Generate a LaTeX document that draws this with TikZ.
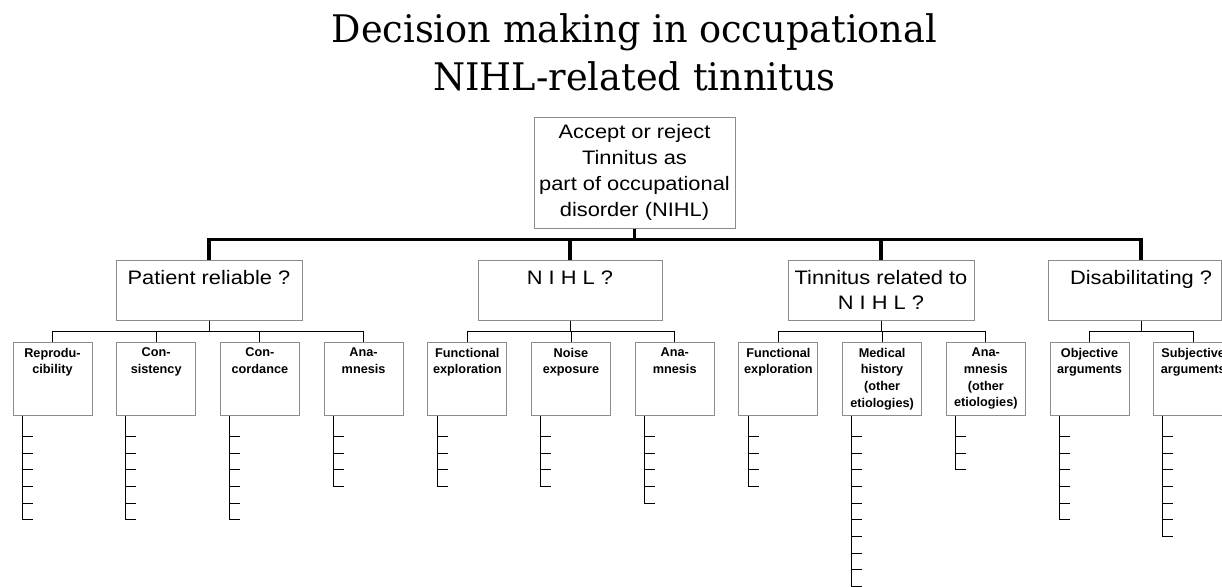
\documentclass[tikz,border=0pt]{standalone}
\usepackage{fontspec}
\setmainfont{Liberation Sans}
\newfontfamily\bigsans{Liberation Sans}[FakeStretch=1.12]
\newfontfamily\titleserif{DejaVu Serif}[FakeStretch=0.965]
\usetikzlibrary{positioning}
% tick column under a child box: node, number of ticks
\newcommand{\tickcol}[2]{%
  \draw[tick] ([xshift=9.7pt]#1.south west) -- ++(0,{-21-16.67*(#2-1)});
  \foreach \i in {1,...,#2}
    \draw[tick] ([xshift=9.7pt,yshift={-21pt-16.67pt*(\i-1)}]#1.south west) -- ++(10.5,0);
}

\begin{document}
\begin{tikzpicture}[x=1pt,y=1pt,
  topbox/.style={draw=black!45, line width=1pt, minimum width=201pt, minimum height=111pt,
    align=center, inner sep=0pt, font=\bigsans\fontsize{19.5}{26}\selectfont},
  qbox/.style={draw=black!45, line width=1pt, minimum height=60pt},
  qtext/.style={align=center, inner sep=0pt, font=\bigsans\fontsize{19.5}{25}\selectfont},
  cbox/.style={draw=black!45, line width=1pt, minimum width=79pt, minimum height=73pt},
  ctext/.style={align=center, inner sep=0pt, font=\fontsize{12.7}{16.7}\selectfont\bfseries},
  bus/.style={line width=3.5pt},
  link/.style={line width=1pt},
  tick/.style={line width=1pt}]
  \useasboundingbox (0,0) rectangle (1222,-586);
  \clip (0,0) rectangle (1222,-586);

  \node (title) [anchor=north, align=center, inner sep=0pt,
    font=\titleserif\fontsize{38}{48.5}\selectfont] at (634.5,-13)
    {Decision making in occupational\\NIHL-related tinnitus};

  \node (top) [topbox] at (634.5,-172.5)
    {Accept or reject\\Tinnitus as\\part of occupational\\disorder (NIHL)};

  % questions
  \node (rel) [qbox, minimum width=186pt] at (209,-290) {};
  \node (reltxt) [qtext, below=11pt of rel.north] {Patient reliable ?};

  \node (nihl) [qbox, minimum width=184pt] at (570,-290) {};
  \node (nihltxt) [qtext, below=11pt of nihl.north] {N I H L ?};

  \node (tin) [qbox, minimum width=186pt] at (881,-290) {};
  \node (tintxt) [qtext, below=11pt of tin.north] {Tinnitus related to\\N I H L ?};

  \node (dis) [qbox, minimum width=173pt] at (1134.5,-290) {};
  \node (distxt) [qtext, below=11pt of dis.north, xshift=6.5pt] {Disabilitating ?};

  % arguments
  \node (c1) [cbox] at (52.5,-378.5) {};
  \node (c1txt) [ctext, below=6.3pt of c1.north] {Reprodu-\\cibility};
  \node (c2) [cbox] at (156.2,-378.5) {};
  \node (c2txt) [ctext, below=6.3pt of c2.north] {Con-\\sistency};
  \node (c3) [cbox] at (259.9,-378.5) {};
  \node (c3txt) [ctext, below=6.3pt of c3.north] {Con-\\cordance};
  \node (c4) [cbox] at (363.6,-378.5) {};
  \node (c4txt) [ctext, below=6.3pt of c4.north] {Ana-\\mnesis};

  \node (c5) [cbox] at (467.3,-378.5) {};
  \node (c5txt) [ctext, below=6.3pt of c5.north] {Functional\\exploration};
  \node (c6) [cbox] at (571.0,-378.5) {};
  \node (c6txt) [ctext, below=6.3pt of c6.north] {Noise\\exposure};
  \node (c7) [cbox] at (674.7,-378.5) {};
  \node (c7txt) [ctext, below=6.3pt of c7.north] {Ana-\\mnesis};

  \node (c8) [cbox] at (778.4,-378.5) {};
  \node (c8txt) [ctext, below=6.3pt of c8.north] {Functional\\exploration};
  \node (c9) [cbox] at (882.1,-378.5) {};
  \node (c9txt) [ctext, below=6.3pt of c9.north] {Medical\\history\\(other\\etiologies)};
  \node (c10) [cbox] at (985.8,-378.5) {};
  \node (c10txt) [ctext, below=6.3pt of c10.north] {Ana-\\mnesis\\(other\\etiologies)};

  \node (c11) [cbox] at (1089.5,-378.5) {};
  \node (c11txt) [ctext, below=6.3pt of c11.north] {Objective\\arguments};
  \node (c12) [cbox] at (1193.2,-378.5) {};
  \node (c12txt) [ctext, below=6.3pt of c12.north] {Subjective\\arguments};

  % thick tree
  \draw[bus] (top.south) -- ++(0,-11) -| (rel.north);
  \draw[bus] (top.south) -- ++(0,-11) -| (nihl.north);
  \draw[bus] (top.south) -- ++(0,-11) -| (tin.north);
  \draw[bus] (top.south) -- ++(0,-11) -| ([xshift=6.5pt]dis.north);

  % thin tree
  \draw[link] (rel.south) -- ++(0,-11) -| (c1.north);
  \draw[link] (rel.south) -- ++(0,-11) -| (c2.north);
  \draw[link] (rel.south) -- ++(0,-11) -| (c3.north);
  \draw[link] (rel.south) -- ++(0,-11) -| (c4.north);
  \draw[link] (nihl.south) -- ++(0,-11) -| (c5.north);
  \draw[link] (nihl.south) -- ++(0,-11) -| (c6.north);
  \draw[link] (nihl.south) -- ++(0,-11) -| (c7.north);
  \draw[link] (tin.south) -- ++(0,-11) -| (c8.north);
  \draw[link] (tin.south) -- ++(0,-11) -| (c9.north);
  \draw[link] (tin.south) -- ++(0,-11) -| (c10.north);
  \draw[link] ([xshift=6.5pt]dis.south) -- ++(0,-11) -| (c11.north);
  \draw[link] ([xshift=6.5pt]dis.south) -- ++(0,-11) -| (c12.north);

  % tick columns
  \tickcol{c1}{6}
  \tickcol{c2}{6}
  \tickcol{c3}{6}
  \tickcol{c4}{4}
  \tickcol{c5}{4}
  \tickcol{c6}{4}
  \tickcol{c7}{5}
  \tickcol{c8}{4}
  \tickcol{c9}{10}
  \tickcol{c10}{3}
  \tickcol{c11}{6}
  \tickcol{c12}{7}
\end{tikzpicture}
\end{document}
